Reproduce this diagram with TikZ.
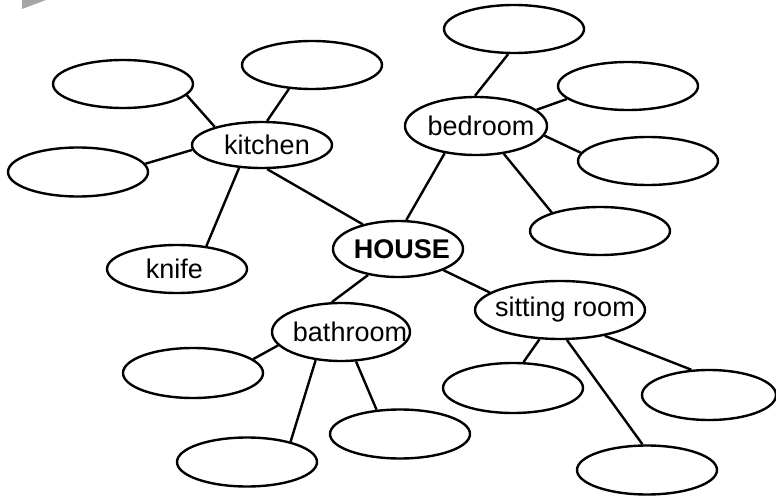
\documentclass[tikz,border=0pt]{standalone}
\usepackage{fontspec}
\setmainfont{Liberation Sans}
\usetikzlibrary{shapes.geometric}
\tikzset{
    bubble/.style={
        ellipse,
        draw,
        line width=2.4pt,
        inner sep=0pt,
        minimum width=#1,
        minimum height=48pt
    },
    bubble/.default=140pt,
    link/.style={line width=2.4pt},
    % word inside a bubble, kept out of the bubble size
    word/.style={font=\fontsize{27}{31}\selectfont}
}
% #1 = twice the shift of the word to the right
\newcommand{\inword}[2][0pt]{\hspace{#1}\makebox[0pt]{#2}}

\begin{document}
\begin{tikzpicture}[x=1pt, y=-1pt, word]
\useasboundingbox (0,0) rectangle (776,500);

% scan mark in the corner
\fill[gray!70] (22,0) -- (46,0) -- (22,9) -- cycle;

% the middle
\node[bubble=130pt, minimum height=56pt] (house) at (398,249) {\inword[8pt]{\textbf{HOUSE}}};

% rooms
\node[bubble=140pt, minimum height=46pt] (kitchen) at (262,145) {\inword[10pt]{kitchen}};
\node[bubble=142pt, minimum height=58pt] (bedroom) at (476,126) {\inword[10pt]{bedroom}};
\node[bubble=138pt, minimum height=58pt] (bathroom) at (341,332) {\inword[18pt]{bathroom}};
\node[bubble=170pt, minimum height=58pt] (sitting) at (560,310) {\inword[10pt]{sitting room}};

% kitchen things
\node[bubble] (kA) at (123,84) {};
\node[bubble] (kB) at (312,65) {};
\node[bubble, minimum height=49pt] (kC) at (78,172) {};
\node[bubble] (knife) at (177,269) {\inword[-5pt]{knife}};

% bedroom things
\node[bubble] (bA) at (514,29) {};
\node[bubble] (bB) at (628,86) {};
\node[bubble] (bC) at (648,161) {};
\node[bubble] (bD) at (600,231) {};

% bathroom things
\node[bubble, minimum height=50pt] (tA) at (193,373) {};
\node[bubble, minimum height=49pt] (tB) at (247,462) {};
\node[bubble, minimum height=49pt] (tC) at (400,434) {};

% sitting room things
\node[bubble, minimum height=50pt] (sA) at (513,388) {};
\node[bubble, minimum height=49pt] (sB) at (647,470) {};
\node[bubble=134pt, minimum height=50pt] (sC) at (709,395) {};

% links
\draw[link] (kitchen.159) -- (kA.-10);
\draw[link] (kitchen.78) -- (kB.-134);
\draw[link] (kitchen.184) -- (kC.7);
\draw[link] (kitchen.-135) -- (knife.38);
\draw[link] (kitchen.-78) -- (house.145);

\draw[link] (bedroom.221) -- (house.74);
\draw[link] (bedroom.92) -- (bA.-103);
\draw[link] (bedroom.15) -- (bB.192);
\draw[link] (bedroom.-8) -- (bC.173);
\draw[link] (bedroom.-45) -- (bD.159);

\draw[link] (house.-25) -- (sitting.166);
\draw[link] (house.221) -- (bathroom.107);

\draw[link] (bathroom.192) -- (tA.13);
\draw[link] (bathroom.228) -- (tB.25);
\draw[link] (bathroom.-63) -- (tC.134);

\draw[link] (sitting.235) -- (sA.68);
\draw[link] (sitting.-77) -- (sB.100);
\draw[link] (sitting.-30) -- (sC.125);
\end{tikzpicture}
\end{document}
